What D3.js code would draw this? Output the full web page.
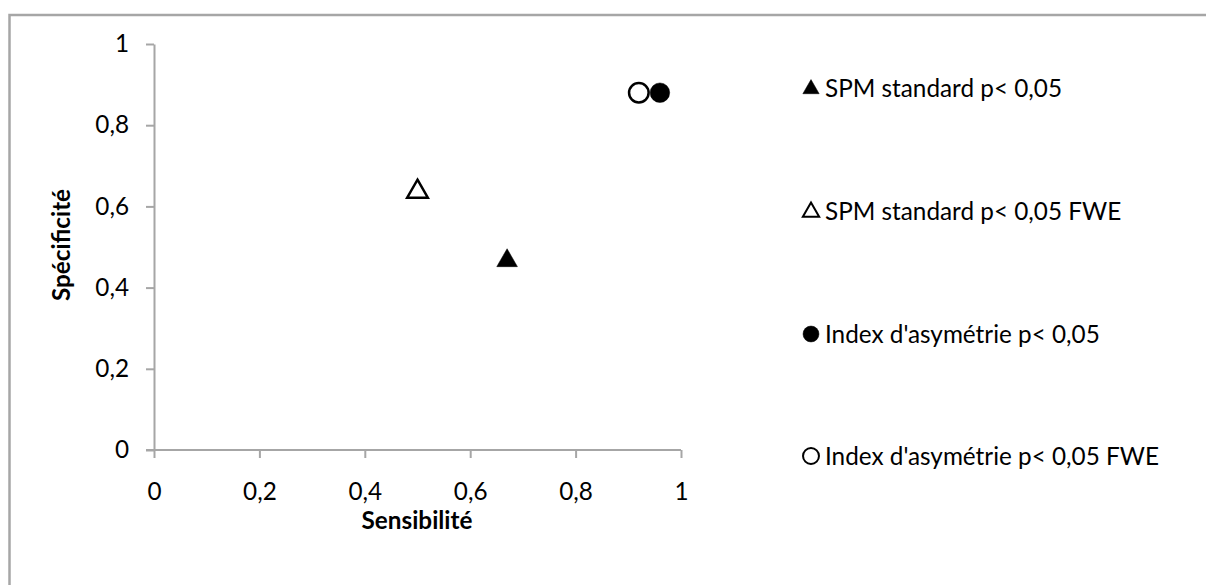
<!DOCTYPE html>
<html><head><meta charset="utf-8">
<script src="https://cdn.jsdelivr.net/npm/d3@7"></script>
<style>body{margin:0;background:#fff}svg{display:block}</style>
</head><body>
<svg id="c" width="1206" height="585"></svg>
<script>
const seriesNames = ["SPM standard p< 0,05", "SPM standard p< 0,05 FWE", "Index d'asymétrie p< 0,05", "Index d'asymétrie p< 0,05 FWE"];
const sensibilite = [0.67, 0.50, 0.96, 0.92];
const specificite = [0.47, 0.64, 0.88, 0.88];
const markerShapes = ["triangle", "triangle", "circle", "circle"];
const markerFilled = [true, false, true, false];
const xTicks = [0, 0.2, 0.4, 0.6, 0.8, 1];
const yTicks = [0, 0.2, 0.4, 0.6, 0.8, 1];

const font = "Lato, 'Open Sans', sans-serif";
const fs = "24.3px";
const svg = d3.select("#c");
svg.append("rect").attr("x",9.5).attr("y",15).attr("width",1300).attr("height",700)
  .attr("fill","#fff").attr("stroke","#a6a6a6").attr("stroke-width",2.5);

const x = d3.scaleLinear().domain([0,1]).range([154,681]);
const y = d3.scaleLinear().domain([0,1]).range([450,44]);
const fmt = d => d3.format("~g")(d).replace(".", ",");

const gx = svg.append("g").attr("transform","translate(0,450)")
  .call(d3.axisBottom(x).tickValues(xTicks).tickFormat(fmt).tickSize(8).tickSizeOuter(0).tickPadding(25));
const gy = svg.append("g").attr("transform","translate(154,0)")
  .call(d3.axisLeft(y).tickValues(yTicks).tickFormat(fmt).tickSize(8).tickSizeOuter(0).tickPadding(17));
[gx, gy].forEach(g => {
  g.select(".domain").attr("stroke","#a6a6a6").attr("stroke-width",2);
  g.selectAll(".tick line").attr("stroke","#a6a6a6").attr("stroke-width",2);
  g.selectAll(".tick text").attr("fill","#000").style("font-family",font).style("font-size",fs);
});
gx.select(".domain").attr("d", `M${x(0)-8},0H${x(1)}`);

svg.append("text").attr("x",417).attr("y",529).attr("text-anchor","middle")
  .style("font-family",font).style("font-size",fs).style("font-weight","bold").text("Sensibilité");
svg.append("text").attr("transform","translate(70,245) rotate(-90)").attr("text-anchor","middle")
  .style("font-family",font).style("font-size",fs).style("font-weight","bold").text("Spécificité");

function sym(shape, size){
  return d3.symbol().type(shape === "triangle" ? d3.symbolTriangle : d3.symbolCircle).size(size)();
}
const data = seriesNames.map((n,i)=>({n, x:sensibilite[i], y:specificite[i], s:markerShapes[i], f:markerFilled[i]}));

svg.append("g").selectAll("path").data(data).join("path")
  .attr("d", d => sym(d.s, d.s === "triangle" ? 185 : 300))
  .attr("transform", d => `translate(${x(d.x)},${y(d.y) + (d.s==="triangle"?1.5:0)})`)
  .attr("fill", d => d.f ? "#000" : "#fff")
  .attr("stroke","#000").attr("stroke-width", d => d.f ? 0.5 : 2.5);

const legendY = [88, 211, 334, 456];
const lg = svg.append("g").selectAll("g").data(data).join("g")
  .attr("transform",(d,i)=>`translate(811,${legendY[i]})`);
lg.append("path").attr("d", d => sym(d.s, d.s === "triangle" ? 115 : 200))
  .attr("transform", d => d.s==="triangle" ? "translate(0,1)" : "")
  .attr("fill", d => d.f ? "#000" : "#fff")
  .attr("stroke","#000").attr("stroke-width", d => d.f ? 0.5 : 2);
lg.append("text").attr("x",14).attr("y",8.5)
  .style("font-family",font).style("font-size",fs).text(d=>d.n);
</script>
</body></html>
